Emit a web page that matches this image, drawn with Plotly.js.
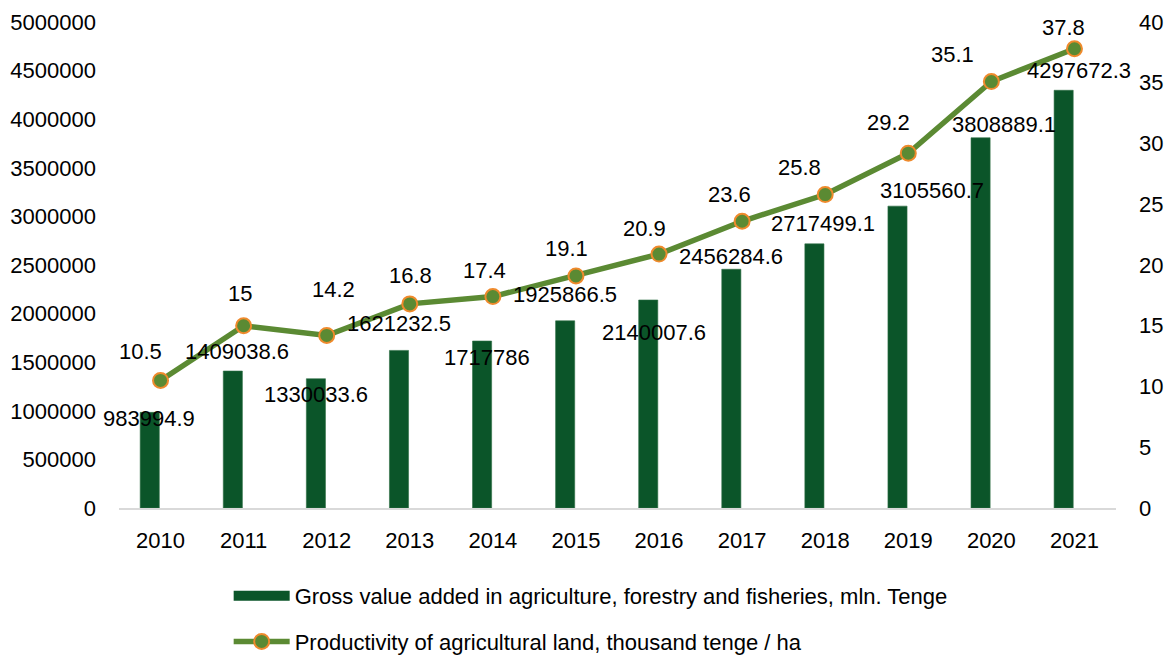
<!DOCTYPE html>
<html>
<head>
<meta charset="utf-8">
<script src="https://cdn.plot.ly/plotly-3.0.1.min.js"></script>
<style>
  html, body { margin: 0; padding: 0; background: #fff; }
  #chart { width: 1170px; height: 656px; }
</style>
</head>
<body>
<div id="chart"></div>
<script>
// ---- data ----
var years = ["2010", "2011", "2012", "2013", "2014", "2015", "2016", "2017", "2018", "2019", "2020", "2021"];
var grossValueAdded = [983994.9, 1409038.6, 1330033.6, 1621232.5, 1717786, 1925866.5, 2140007.6, 2456284.6, 2717499.1, 3105560.7, 3808889.1, 4297672.3];
var landProductivity = [10.5, 15, 14.2, 16.8, 17.4, 19.1, 20.9, 23.6, 25.8, 29.2, 35.1, 37.8];
var barSeriesName = "Gross value added in agriculture, forestry and fisheries, mln. Tenge";
var lineSeriesName = "Productivity of agricultural land, thousand tenge / ha";
var leftTicks = [0, 500000, 1000000, 1500000, 2000000, 2500000, 3000000, 3500000, 4000000, 4500000, 5000000];
var rightTicks = [0, 5, 10, 15, 20, 25, 30, 35, 40];

// ---- label placement offsets (pixels: dx right, dy down from the data point) ----
var barLabelDx = [-12, -7, -11, -11, -6, -11, -5, -11, -2, 24, 13, 5];
var barLabelDy = [6, -20, 16, -27, 16, -26, 33, -13, -20, -16, -13, -20];
var lineLabelDx = [-20, -4, 7, 1, -8, -9, -15, -13, -26, -20, -39, -11];
var lineLabelDy = [-29, -32, -46, -28, -26, -27, -26, -27, -27, -31, -27, -21];

var FONT = '"Liberation Sans", Arial, Helvetica, sans-serif';
var FS = 22;
var BAR_COLOR = "#0b5529";
var LINE_COLOR = "#5b8a33";
var MARKER_EDGE = "#ef8a2c";

var traces = [
  {
    type: "bar",
    name: barSeriesName,
    x: years,
    y: grossValueAdded,
    yaxis: "y",
    offset: -0.245,
    width: 0.23,
    marker: { color: BAR_COLOR, line: { color: "#2f6f45", width: 0.6 } },
    legendgroup: "a",
    showlegend: false,
    hoverinfo: "x+y"
  },
  {
    // legend swatch only for the bar series (wide flat bar, as in the source); draws nothing
    type: "scatter",
    mode: "lines",
    name: barSeriesName,
    x: [years[0]],
    y: [null],
    yaxis: "y",
    line: { color: BAR_COLOR, width: 13 },
    legendgroup: "a",
    showlegend: true,
    hoverinfo: "skip"
  },
  {
    type: "scatter",
    mode: "lines+markers",
    name: lineSeriesName,
    x: years,
    y: landProductivity,
    yaxis: "y2",
    line: { color: LINE_COLOR, width: 5.5 },
    marker: { color: LINE_COLOR, size: 15, line: { color: MARKER_EDGE, width: 2 } },
    legendgroup: "b",
    hoverinfo: "x+y"
  }
];

// annotations on a category axis take the category's serial number
var annotations = [];
for (var i = 0; i < years.length; i++) {
  annotations.push({
    x: i, y: grossValueAdded[i], xref: "x", yref: "y",
    text: String(grossValueAdded[i]),
    showarrow: false, xanchor: "center", yanchor: "middle",
    xshift: barLabelDx[i], yshift: -barLabelDy[i],
    font: { family: FONT, size: FS, color: "#000" }
  });
  annotations.push({
    x: i, y: landProductivity[i], xref: "x", yref: "y2",
    text: String(landProductivity[i]),
    showarrow: false, xanchor: "center", yanchor: "middle",
    xshift: lineLabelDx[i], yshift: -lineLabelDy[i],
    font: { family: FONT, size: FS, color: "#000" }
  });
}

var layout = {
  width: 1170,
  height: 656,
  margin: { l: 119, r: 54, t: 22, b: 148, pad: 0, autoexpand: false },
  paper_bgcolor: "#ffffff",
  plot_bgcolor: "#ffffff",
  font: { family: FONT, size: FS, color: "#000" },
  showlegend: true,
  legend: {
    orientation: "v",
    x: 0.110, xanchor: "left",
    y: -0.138, yanchor: "top",
    font: { family: FONT, size: FS, color: "#000" },
    itemwidth: 56,
    tracegroupgap: 14,
    bgcolor: "rgba(0,0,0,0)"
  },
  xaxis: {
    type: "category",
    categoryorder: "array",
    categoryarray: years,
    range: [-0.5, years.length - 0.5],
    autorange: false,
    showgrid: false,
    zeroline: false,
    showline: true,
    linecolor: "#d9d9d9",
    linewidth: 1.5,
    ticks: "",
    ticklabelstandoff: 12,
    tickfont: { family: FONT, size: FS, color: "#000" }
  },
  yaxis: {
    range: [0, 5000000],
    autorange: false,
    tickvals: leftTicks,
    ticktext: leftTicks.map(String),
    showgrid: false,
    zeroline: false,
    showline: false,
    ticks: "",
    ticklabelstandoff: 22,
    tickfont: { family: FONT, size: FS, color: "#000" }
  },
  yaxis2: {
    range: [0, 40],
    autorange: false,
    tickvals: rightTicks,
    ticktext: rightTicks.map(String),
    overlaying: "y",
    side: "right",
    showgrid: false,
    zeroline: false,
    showline: false,
    ticks: "",
    ticklabelstandoff: 22,
    tickfont: { family: FONT, size: FS, color: "#000" }
  },
  annotations: annotations
};

Plotly.newPlot("chart", traces, layout, { displayModeBar: false, responsive: false });
</script>
</body>
</html>
